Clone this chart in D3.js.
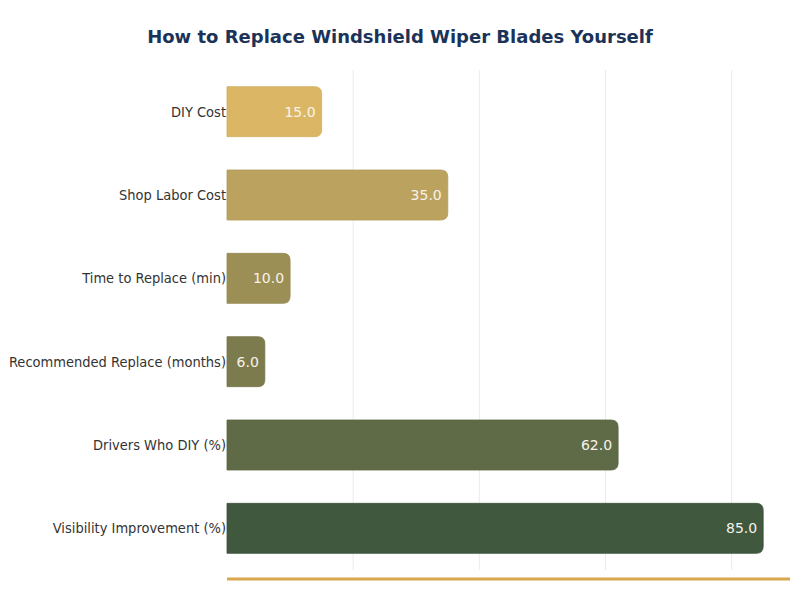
<!DOCTYPE html>
<html><head><meta charset="utf-8">
<script src="https://cdn.jsdelivr.net/npm/d3@7"></script>
<style>body{margin:0;background:#fff}svg{display:block}</style>
</head><body>
<svg id="c" width="800" height="600"></svg>
<script>
const categories = ["DIY Cost","Shop Labor Cost","Time to Replace (min)","Recommended Replace (months)","Drivers Who DIY (%)","Visibility Improvement (%)"];
const values = [15, 35, 10, 6, 62, 85];
const colors = ["#dbb765","#bba25e","#9c8f56","#7c7b4e","#5f6a47","#40583e"];
const gridTicks = [20, 40, 60, 80];

const svg = d3.select("#c");
const font = "DejaVu Sans, sans-serif";
const x = d3.scaleLinear().domain([0, 85 * 1.05]).range([227, 790]);
const y = d3.scaleBand().domain(categories).range([70, 570]).paddingInner(0.4).paddingOuter(0.2);

svg.append("text").attr("x", 400).attr("y", 43).attr("text-anchor", "middle")
  .attr("font-family", font).attr("font-weight", "bold").attr("font-size", 18)
  .attr("fill", "#1b3358").text("How to Replace Windshield Wiper Blades Yourself");

svg.append("g").selectAll("line").data(gridTicks).join("line")
  .attr("x1", d => x(d)).attr("x2", d => x(d)).attr("y1", 70).attr("y2", 570)
  .attr("stroke", "#ebebeb").attr("stroke-width", 1);

function rrect(x0, y0, w, h, r) {
  r = Math.min(r, w / 2, h / 2);
  const p = d3.path();
  p.moveTo(x0, y0);
  p.lineTo(x0 + w - r, y0);
  p.quadraticCurveTo(x0 + w, y0, x0 + w, y0 + r);
  p.lineTo(x0 + w, y0 + h - r);
  p.quadraticCurveTo(x0 + w, y0 + h, x0 + w - r, y0 + h);
  p.lineTo(x0, y0 + h);
  p.closePath();
  return p.toString();
}

const data = categories.map((c, i) => ({c, v: values[i], col: colors[i]}));
svg.append("g").selectAll("path").data(data).join("path")
  .attr("d", d => rrect(x(0), y(d.c), x(d.v) - x(0), y.bandwidth(), 7))
  .attr("fill", d => d.col).attr("stroke", d => d3.color(d.col).darker(0.15)).attr("stroke-width", 0.8);

svg.append("g").selectAll("text").data(data).join("text")
  .attr("x", d => x(d.v) - 6).attr("y", d => y(d.c) + y.bandwidth() / 2)
  .attr("dy", "0.35em").attr("text-anchor", "end")
  .attr("font-family", font).attr("font-size", 14).attr("fill", "#f8f3ea")
  .text(d => d.v.toFixed(1));

svg.append("g").selectAll("text").data(categories).join("text")
  .attr("x", 226).attr("y", d => y(d) + y.bandwidth() / 2)
  .attr("dy", "0.35em").attr("text-anchor", "end")
  .attr("font-family", "DejaVu Sans Condensed, DejaVu Sans, sans-serif").attr("font-size", 14.5).attr("fill", "#333333")
  .text(d => d);

svg.append("line").attr("x1", 227).attr("x2", 790).attr("y1", 579).attr("y2", 579)
  .attr("stroke", "#d9a84e").attr("stroke-width", 3);
</script>
</body></html>
